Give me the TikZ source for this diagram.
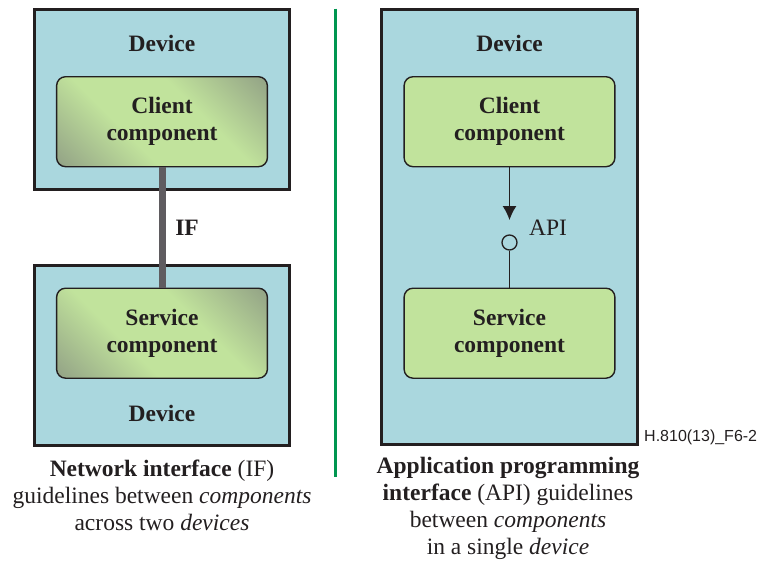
\documentclass[tikz,border=0pt]{standalone}
\usepackage{fontspec}
\setmainfont{Liberation Serif}
\newfontfamily\figlabelfont{Liberation Sans}
\usepackage{tikz}
\usetikzlibrary{arrows.meta}
\definecolor{devblue}{RGB}{170,215,222}
\definecolor{compgreen}{RGB}{193,227,156}
\definecolor{shgray}{RGB}{118,122,120}
\definecolor{boxline}{RGB}{35,31,32}
\definecolor{ifgray}{RGB}{95,92,96}
\definecolor{divgreen}{RGB}{0,150,80}
\pgfdeclarehorizontalshading{compshade}{100bp}{color(0bp)=(shgray); color(39bp)=(compgreen); color(61bp)=(compgreen); color(100bp)=(shgray)}
\tikzstyle{device} = [draw=boxline, line width=3pt, fill=devblue, minimum width=255pt, inner sep=0pt]
\tikzstyle{comp} = [draw=boxline, line width=1.4pt, rounded corners=9pt, minimum width=210.8pt, minimum height=90pt, align=center, font=\bfseries\fontsize{23.5}{27}\selectfont, text=boxline]
\tikzstyle{netcomp} = [comp, shading=compshade, shading angle=45]
\tikzstyle{apicomp} = [comp, fill=compgreen]
\tikzstyle{lbl} = [font=\fontsize{23.5}{27}\selectfont, text=boxline, inner sep=0pt]
\tikzstyle{caption} = [lbl, align=center]

\begin{document}
\begin{tikzpicture}[x=1pt,y=-1pt]
        \useasboundingbox (0,0) rectangle (763,562);
        % network interface, two devices
        \node[device, minimum height=180.5pt](devA) at (162,99.25){};
        \node[device, minimum height=180pt](devB) at (162,355.8){};
        \node[lbl,font=\bfseries\fontsize{23.5}{27}\selectfont](devAtxt) at (162,43){Device};
        \node[lbl,font=\bfseries\fontsize{23.5}{27}\selectfont](devBtxt) at (162,413){Device};
        \node[netcomp](cliA) at (162,121.7){Client\\component};
        \node[netcomp](srvA) at (162,333.2){Service\\component};
        \draw[ifgray, line width=7pt](cliA.south)--(srvA.north);
        \node[lbl,font=\bfseries\fontsize{23.5}{27}\selectfont](iftxt) at (187,228){IF};
        % divider
        \draw[divgreen, line width=2.5pt](335.5,8.7)--(335.5,476.7);
        % api, one device
        \node[device, minimum width=256.3pt, minimum height=435.8pt](devC) at (509.6,226.9){};
        \node[lbl,font=\bfseries\fontsize{23.5}{27}\selectfont](devCtxt) at (509.6,43){Device};
        \node[apicomp](cliC) at (509.5,121.7){Client\\component};
        \node[apicomp](srvC) at (509.5,333.2){Service\\component};
        \node[draw=boxline, line width=1.3pt, circle, inner sep=0pt, minimum size=15pt](api) at (509.5,242.5){};
        \coordinate (tip) at (509.5,220);
        \draw[boxline, line width=1.3pt, -{Latex[length=14pt,width=14pt]}](cliC.south)--(tip);
        \draw[boxline, line width=1.3pt](api.south)--(srvC.north);
        \node[lbl](apitxt) at (548,228){API};
        % captions
        \node[caption](capA) at (162,495){\textbf{Network interface} (IF)\\guidelines between \textit{components}\\across two \textit{devices}};
        \node[caption](capC) at (508,508.3){\textbf{Application programming}\\\textbf{interface} (API) guidelines\\between \textit{components}\\in a single \textit{device}};
        \node[anchor=west, inner sep=0pt, text=boxline, font=\figlabelfont\fontsize{16}{19}\selectfont](figid) at (644,437){H.810(13)\_F6-2};
      \end{tikzpicture}
\end{document}
